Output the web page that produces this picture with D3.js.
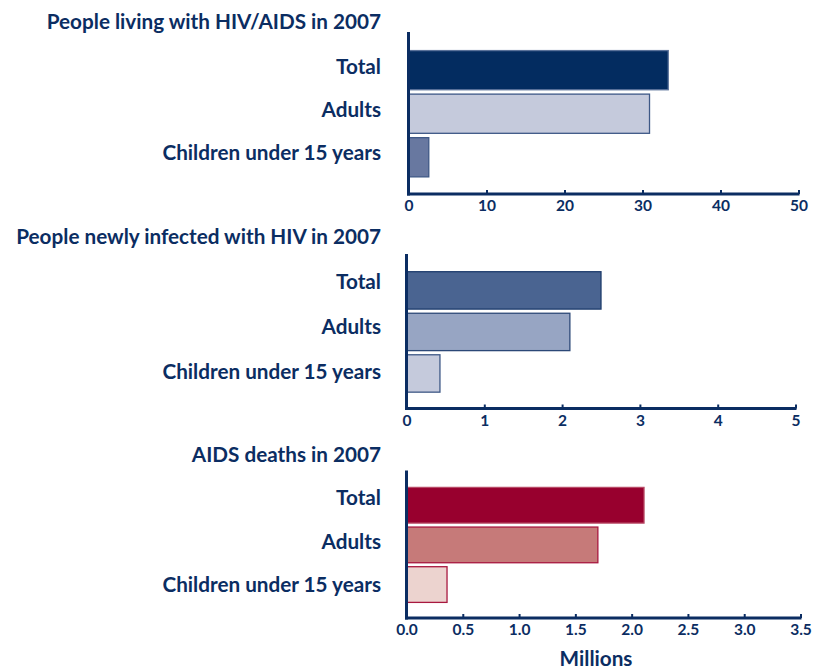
<!DOCTYPE html>
<html>
<head>
<meta charset="utf-8">
<script src="https://cdn.jsdelivr.net/npm/d3@7"></script>
<style>
  html, body { margin: 0; padding: 0; background: #fff; }
  svg { display: block; }
  text { font-family: "Lato", "Open Sans", sans-serif; font-weight: 700; fill: #0b2d62; }
</style>
</head>
<body>
<svg id="chart" width="814" height="671"></svg>
<script>
// Global HIV and AIDS estimates, 2007 (millions)
const categories = ["Total", "Adults", "Children under 15 years"];
const panelTitles = [
  "People living with HIV/AIDS in 2007",
  "People newly infected with HIV in 2007",
  "AIDS deaths in 2007"
];
const livingValues = [33.3, 30.9, 2.6];
const newInfectionValues = [2.5, 2.1, 0.43];
const deathValues = [2.11, 1.7, 0.36];
const livingTicks = [0, 10, 20, 30, 40, 50];
const newInfectionTicks = [0, 1, 2, 3, 4, 5];
const deathTicks = [0, 0.5, 1.0, 1.5, 2.0, 2.5, 3.0, 3.5];
const unitLabel = "Millions";

const navy = "#0b2d62";
const labelSize = "20.7px";

// Layout and styling for each panel
const panels = [
  {
    title: panelTitles[0], values: livingValues, ticks: livingTicks, fmt: d3.format("d"),
    x0: 408.5, x1: 798.5, top: 32, axisY: 194, titleY: 28.5, labelY: [73.5, 117, 159.5],
    fills: ["#032c60", "#c5cadc", "#6878a0"],
    strokes: ["#5a729a", "#3e5886", "#3e5886"]
  },
  {
    title: panelTitles[1], values: newInfectionValues, ticks: newInfectionTicks, fmt: d3.format("d"),
    x0: 406.5, x1: 795.5, top: 254, axisY: 408.5, titleY: 244, labelY: [289, 333.5, 378.5],
    fills: ["#4a6491", "#97a5c3", "#c5cadc"],
    strokes: ["#1e3c6c", "#2c4877", "#3e5886"]
  },
  {
    title: panelTitles[2], values: deathValues, ticks: deathTicks, fmt: d3.format(".1f"),
    x0: 406.5, x1: 800.5, top: 470.5, axisY: 618, titleY: 462, labelY: [505, 548.5, 592],
    fills: ["#98002e", "#c67a79", "#ecd3cf"],
    strokes: ["#b84a66", "#a8183f", "#a8183f"]
  }
];

const svg = d3.select("#chart");
const labelX = 381;

panels.forEach(p => {
  const g = svg.append("g");
  const domainMax = p.ticks[p.ticks.length - 1];
  const x = d3.scaleLinear().domain([0, domainMax]).range([p.x0, p.x1]);
  const y = d3.scaleBand().domain(categories).range([p.top, p.axisY])
    .paddingInner(0.1).paddingOuter(0.41).align(0.52);

  // Bars
  g.selectAll("rect.bar")
    .data(categories.map((c, i) => ({ c, v: p.values[i], i })))
    .join("rect")
    .attr("class", "bar")
    .attr("x", x(0))
    .attr("y", d => y(d.c))
    .attr("width", d => x(d.v) - x(0))
    .attr("height", y.bandwidth())
    .attr("fill", d => p.fills[d.i])
    .attr("stroke", d => p.strokes[d.i])
    .attr("stroke-width", 1.3);

  // Title and category labels
  g.append("text")
    .attr("x", labelX).attr("y", p.titleY)
    .attr("text-anchor", "end")
    .style("font-size", labelSize)
    .text(p.title);

  g.selectAll("text.cat")
    .data(categories)
    .join("text")
    .attr("class", "cat")
    .attr("x", labelX)
    .attr("y", (d, i) => p.labelY[i])
    .attr("text-anchor", "end")
    .style("font-size", labelSize)
    .text(d => d);

  // Value axis with inward tick marks
  const xAxis = d3.axisBottom(x)
    .tickValues(p.ticks)
    .tickFormat(p.fmt)
    .tickSizeInner(-4)
    .tickSizeOuter(0)
    .tickPadding(6);

  const ax = g.append("g")
    .attr("transform", `translate(0,${p.axisY})`)
    .call(xAxis);
  ax.select(".domain").attr("stroke", navy).attr("stroke-width", 3)
    .attr("d", `M${p.x0 - 1.5},0H${p.x1 + 1}`);
  ax.selectAll(".tick line").attr("stroke", navy).attr("stroke-width", 2);
  ax.selectAll(".tick text")
    .attr("fill", navy)
    .style("font-size", "15.5px")
    .style("font-family", "Lato, sans-serif")
    .style("font-weight", "700");

  // Category axis line
  const yAxis = d3.axisLeft(y).tickValues([]).tickSizeOuter(0);
  const ay = g.append("g")
    .attr("transform", `translate(${p.x0},0)`)
    .call(yAxis);
  ay.select(".domain").attr("stroke", navy).attr("stroke-width", 3)
    .attr("d", `M0,${p.top}V${p.axisY + 1.5}`);
});

svg.append("text")
  .attr("x", 596).attr("y", 666)
  .attr("text-anchor", "middle")
  .style("font-size", labelSize)
  .text(unitLabel);
</script>
</body>
</html>
